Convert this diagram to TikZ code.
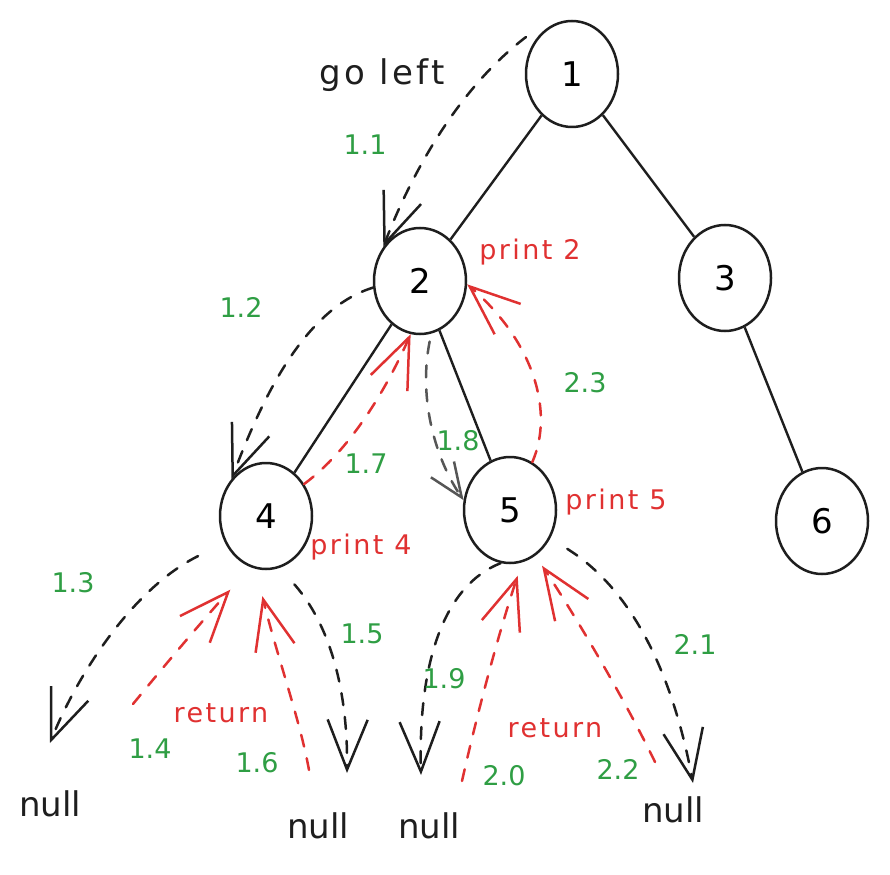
\documentclass[tikz,border=0pt]{standalone}
\usepackage{fontspec}
\setmainfont{DejaVu Sans}
\usetikzlibrary{arrows.meta,shapes.geometric}
\definecolor{exred}{HTML}{E03131}
\definecolor{exgreen}{HTML}{2F9E44}
\definecolor{exink}{HTML}{1E1E1E}
\begin{document}
\begin{tikzpicture}[x=1pt,y=-1pt,
  vert/.style={ellipse, draw=exink, line width=2.5pt, minimum width=92pt, minimum height=106pt, inner sep=0pt, font=\fontsize{34}{40}\selectfont},
  tree/.style={draw=exink, line width=2.4pt},
  call/.style={draw=exink, line width=2.5pt, line cap=round, dash pattern=on 12pt off 12pt, -{Straight Barb[length=50pt,width=40pt]}},
  back/.style={call, draw=exred},
  stepno/.style={text=exgreen, font=\fontsize{27}{32}\selectfont},
  note/.style={text=exred, font=\fontsize{27}{32}\selectfont\addfontfeatures{LetterSpace=9}},
  word/.style={text=exink, font=\fontsize{34}{40}\selectfont}]
\useasboundingbox (0,0) rectangle (890,874);
% tree
\node[vert] (v1) at (572,74) {1};
\node[vert] (v2) at (420,281) {2};
\node[vert] (v3) at (725,278) {3};
\node[vert] (v4) at (266,516) {4};
\node[vert] (v5) at (510,510) {5};
\node[vert] (v6) at (822,521) {6};
\draw[tree] (v1) -- (v2);
\draw[tree] (v1) -- (v3);
\draw[tree] (v2) -- (v4);
\draw[tree] (v2) -- (v5);
\draw[tree] (v3) -- (v6);
% leaves
\node[word] (nl1) at (50,804) {null};
\node[word] (nl2) at (318,826) {null};
\node[word] (nl3) at (429,826) {null};
\node[word] (nl4) at (673,810) {null};
\coordinate (s11) at (526,37);
\coordinate (t13) at (50,743);
\coordinate (t15) at (347,773);
\coordinate (t19) at (421,775);
\coordinate (t21) at (693,783);
\coordinate (s14) at (133,704);
\coordinate (s16) at (309,770);
\coordinate (s20) at (462,781);
\coordinate (s22) at (655,762);
% calls
\draw[call] (s11) .. controls (450,95) and (405,190) .. (v2.137);
\draw[call] (v2.188) .. controls (300,310) and (258,410) .. (v4.133);
\draw[call, shorten <=30pt] (v4.213) .. controls (130,590) and (75,680) .. (t13);
\draw[call, shorten <=22pt] (v4.-75) .. controls (330,625) and (348,690) .. (t15);
\draw[call, draw=exink!75, shorten <=8pt, -{Straight Barb[length=34pt,width=28pt]}] (v2.-78) .. controls (418,400) and (436,460) .. (v5.168);
\draw[call] (v5.-100) .. controls (445,585) and (418,660) .. (t19);
\draw[call, shorten <=20pt] (v5.-35) .. controls (625,585) and (670,660) .. (t21);
% returns
\draw[back, shorten >=30pt] (s14) .. controls (165,665) and (197,627) .. (v4.-107);
\draw[back, shorten >=28pt] (s16) .. controls (300,720) and (277,656) .. (v4.-101);
\draw[back] (v4.40) .. controls (350,450) and (386,390) .. (v2.-100);
\draw[back, shorten >=14pt] (s20) .. controls (478,710) and (499,632) .. (v5.-77);
\draw[back, shorten >=12pt] (s22) .. controls (625,700) and (575,615) .. (v5.-61);
\draw[back] (v5.65) .. controls (555,410) and (532,340) .. (v2.-4);
% labels
\node[word, font=\fontsize{34}{40}\selectfont\addfontfeatures{LetterSpace=10}] (goleft) at (382,75) {go left};
\node[stepno] (l11) at (365,145) {1.1};
\node[stepno] (l12) at (241,307) {1.2};
\node[stepno] (l13) at (73,583) {1.3};
\node[stepno] (l14) at (150,749) {1.4};
\node[stepno] (l15) at (362,634) {1.5};
\node[stepno] (l16) at (257,763) {1.6};
\node[stepno] (l17) at (366,464) {1.7};
\node[stepno] (l18) at (458,441) {1.8};
\node[stepno] (l19) at (444,679) {1.9};
\node[stepno] (l20) at (504,776) {2.0};
\node[stepno] (l21) at (695,644) {2.1};
\node[stepno] (l22) at (618,769) {2.2};
\node[stepno] (l23) at (585,383) {2.3};
\node[note] (p2) at (530,252) {print 2};
\node[note] (p4) at (361,547) {print 4};
\node[note] (p5) at (616,502) {print 5};
\node[note] (ret1) at (221,713) {return};
\node[note] (ret2) at (555,728) {return};
\end{tikzpicture}
\end{document}
